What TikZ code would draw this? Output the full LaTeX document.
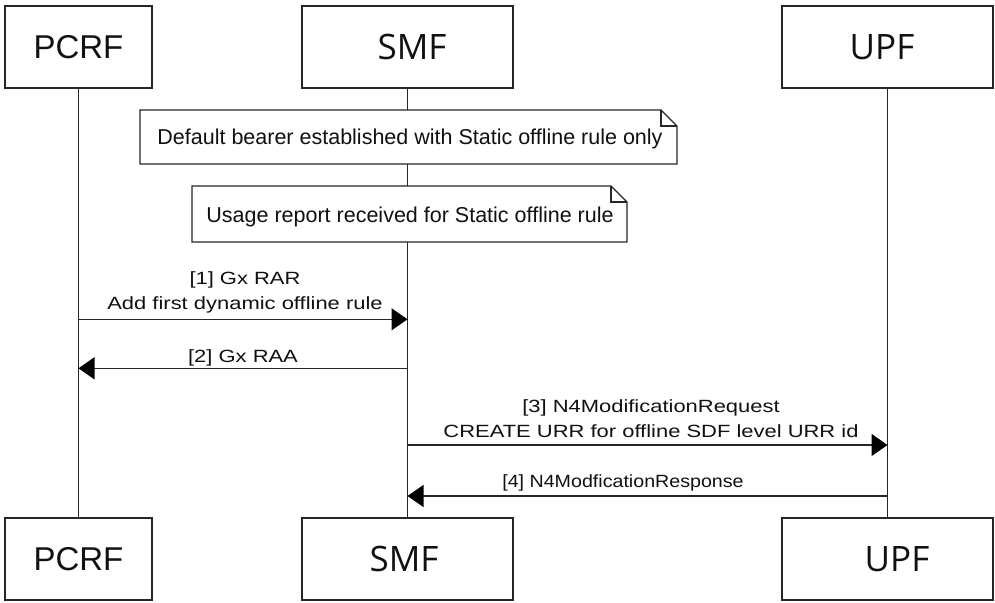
\documentclass[tikz,border=0pt]{standalone}
\usepackage{fontspec}
\setmainfont{Liberation Sans}
\newfontfamily\boxfont{Open Sans}
\newfontfamily\msgfont[FakeStretch=1.24]{Liberation Sans}
\newfontfamily\msgfontb[FakeStretch=1.11]{Liberation Sans}
\usetikzlibrary{arrows.meta}
\definecolor{ln}{HTML}{262626}
\definecolor{tx}{HTML}{111111}
\begin{document}
\begin{tikzpicture}[x=1pt,y=-1pt,
 actor/.style={draw=ln, line width=1.5pt, minimum width=211pt, minimum height=82pt, inner sep=0pt, text=tx, font=\boxfont\fontsize{35}{40}\selectfont},
 pcrfbox/.style={actor, minimum width=147pt, font=\fontsize{33}{40}\selectfont},
 lifeline/.style={draw=ln, line width=1.3pt},
 notetext/.style={inner sep=0pt, text=tx, font=\fontsize{21.5}{26}\selectfont, text depth=0pt},
 notebox/.style={draw=ln, line width=1.3pt, fill=white},
 msg/.style={draw=ln, line width=1.3pt, -{Triangle[length=16pt,width=22pt,color=black]}},
 msglabel/.style={anchor=south, inner sep=0pt, align=center, text=tx, font=\msgfont\fontsize{17.7}{25.8}\selectfont, text depth=4pt}
]
\path[fill=white, use as bounding box] (0,0) rectangle (995,602);

% participants
\node[pcrfbox] (pt) at (78.5,47) {PCRF};
\node[actor] (st) at (407.5,47) {\hspace*{9pt}SMF};
\node[actor] (ut) at (887.5,47) {UPF\hspace*{11pt}};
\node[pcrfbox] (pb) at (78.5,559) {PCRF};
\node[actor] (sb) at (407.5,559) {SMF\hspace*{7pt}};
\node[actor] (ub) at (887.5,559) {\hspace*{19pt}UPF};

% lifelines
\draw[lifeline] (pt.south) -- (pb.north);
\draw[lifeline] (st.south) -- (sb.north);
\draw[lifeline] (ut.south) -- (ub.north);

% notes
\draw[notebox] (140,110) -- (661,110) -- (677,126) -- (677,164) -- (140,164) -- cycle;
\draw[draw=ln, line width=1.1pt] (661,110) -- (661,126) -- (677,126);
\node[notetext] (n1) at (410,137.2) {Default bearer established with Static offline rule only};

\draw[notebox] (192,186) -- (611,186) -- (627,202) -- (627,242) -- (192,242) -- cycle;
\draw[draw=ln, line width=1.1pt] (611,186) -- (611,202) -- (627,202);
\node[notetext] (n2) at (410,214.5) {Usage report received for Static offline rule};

% messages
\draw[msg] (pt.south |- 0,319.3) -- (st.south |- 0,319.3);
\node[msglabel] (l1) at (245,314) {[1] Gx RAR\\Add first dynamic offline rule};

\draw[msg] (st.south |- 0,368.3) -- (pt.south |- 0,368.3);
\node[msglabel] (l2) at (243,367) {[2] Gx RAA};

\draw[msg] (st.south |- 0,445) -- (ut.south |- 0,445);
\node[msglabel] (l3) at (651,442) {[3] N4ModificationRequest\\CREATE URR for offline SDF level URR id};

\draw[msg] (ut.south |- 0,496) -- (st.south |- 0,496);
\node[msglabel, font=\msgfontb\fontsize{17.7}{25.8}\selectfont] (l4) at (623,492) {[4] N4ModficationResponse};
\end{tikzpicture}
\end{document}
